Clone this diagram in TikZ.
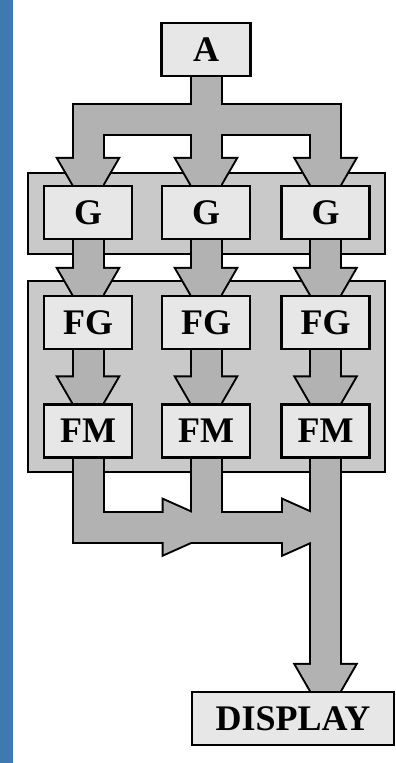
\documentclass[tikz,border=0pt]{standalone}
\usepackage{fontspec}
\setmainfont{Liberation Serif}
\usetikzlibrary{calc}
\pgfdeclarelayer{grp}
\pgfdeclarelayer{arr}
\pgfsetlayers{grp,arr,main}
\definecolor{boxfill}{RGB}{231,231,231}
\definecolor{grpfill}{RGB}{201,201,201}
\definecolor{arrfill}{RGB}{178,178,178}
\definecolor{side}{RGB}{62,121,176}
\tikzset{
  blk/.style={draw=black, line width=2.4pt, fill=boxfill, minimum width=88pt,
    minimum height=53pt, inner sep=0pt, font=\fontsize{36}{36}\selectfont\bfseries},
  grpbox/.style={draw=black, line width=2.4pt, fill=grpfill, inner sep=0pt},
  outerline/.style={line width=33pt, draw=black, line join=miter},
  innerline/.style={line width=29pt, draw=arrfill, line join=miter},
  headout/.style={fill=black, draw=black, line width=4pt, line join=miter},
  headin/.style={fill=arrfill},
}
\newcommand\dhead[1]{([shift={(-29.5,-26)}]#1) -- ([shift={(29.5,-26)}]#1) -- ([shift={(14.5,0)}]#1) -- ([shift={(-14.5,0)}]#1) -- cycle}
\newcommand\rhead[1]{([shift={(-28,-27)}]#1) -- ([shift={(0,-14.5)}]#1) -- ([shift={(0,14.5)}]#1) -- ([shift={(-28,27)}]#1) -- cycle}
\newcommand\connpaths[1]{%
  \draw[#1] (A.south) -- (t) -| (G1.north);
  \draw[#1] (t) -| (G3.north);
  \draw[#1] (A.south) -- (G2.north);
  \draw[#1] (G1.south) -- (FG1.north);
  \draw[#1] (G2.south) -- (FG2.north);
  \draw[#1] (G3.south) -- (FG3.north);
  \draw[#1] (FG1.south) -- (FM1.north);
  \draw[#1] (FG2.south) -- (FM2.north);
  \draw[#1] (FG3.south) -- (FM3.north);
  \draw[#1] (FM1.south) -- (m1) -- (b3);
  \draw[#1] (FM2.south) -- (b2);
  \draw[#1] (FM3.south) -- (d3);
}
\newcommand\headpaths[1]{%
  \path[#1] \dhead{G1.north};
  \path[#1] \dhead{G2.north};
  \path[#1] \dhead{G3.north};
  \path[#1] \dhead{FG1.north};
  \path[#1] \dhead{FG2.north};
  \path[#1] \dhead{FG3.north};
  \path[#1] \dhead{FM1.north};
  \path[#1] \dhead{FM2.north};
  \path[#1] \dhead{FM3.north};
  \path[#1] \dhead{d3};
  \path[#1] \rhead{r1};
  \path[#1] \rhead{r2};
}
\begin{document}
\begin{tikzpicture}[x=1pt,y=-1pt]
\useasboundingbox (0,0) rectangle (396,763);

% boxes
\node[blk, minimum width=89pt] (A) at (206,49.5) {A};
\foreach \i/\x in {1/88,2/206,3/325.5}{
  \node[blk] (G\i) at (\x,212.5) {G};
  \node[blk] (FG\i) at (\x,322.5) {FG};
  \node[blk] (FM\i) at (\x,431) {FM};
}
\node[blk, minimum width=202pt] (DISP) at (293,718.5) {DISPLAY};

% background, side strip and group panels
\begin{pgfonlayer}{grp}
  \fill[white] (0,0) rectangle (396,763);
  \fill[side] (0,0) rectangle (13,763);
  \node[grpbox, minimum width=357pt, minimum height=81pt] (grpG) at (206.5,213.5) {};
  \node[grpbox, minimum width=357pt, minimum height=191pt] (grpF) at (206.5,376.5) {};
\end{pgfonlayer}

% helper coordinates
\coordinate (t) at ($(A.south)+(0,42)$);
\coordinate (m1) at ($(FM1.south)+(0,68.5)$);
\coordinate (b2) at (m1 -| FM2.south);
\coordinate (b3) at (m1 -| FM3.south);
\coordinate (d3) at (FM3.south |- DISP.north);
\coordinate (r1) at ($(b2)+(-14.5,0)$);
\coordinate (r2) at ($(b3)+(-14.5,0)$);

% block arrows
\begin{pgfonlayer}{arr}
  \connpaths{outerline}
  \headpaths{headout}
  \connpaths{innerline}
  \headpaths{headin}
\end{pgfonlayer}
\end{tikzpicture}
\end{document}
